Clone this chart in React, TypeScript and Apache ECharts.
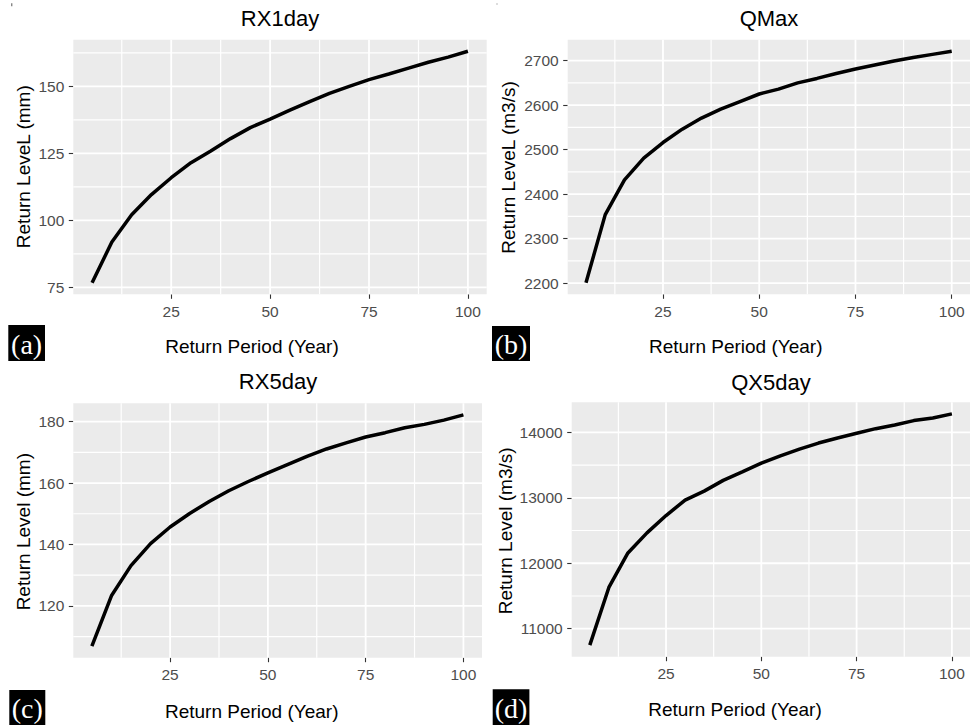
import React, { useEffect, useRef } from "react";
import * as echarts from "echarts";

// ---------- data ----------
const returnPeriods = [5, 10, 15, 20, 25, 30, 35, 40, 45, 50, 55, 60, 65, 70, 75, 80, 85, 90, 95, 100];

const rx1dayLevels = [76.7, 91.9, 102.1, 109.6, 115.9, 121.5, 125.9, 130.5, 134.6, 137.8, 141.1, 144.3, 147.4, 150.0, 152.5, 154.6, 156.8, 159.0, 160.9, 163.1];
const qmaxLevels = [2201, 2354, 2432, 2481, 2516, 2546, 2571, 2591, 2608, 2625, 2636, 2650, 2660, 2671, 2681, 2690, 2699, 2707, 2714, 2721];
const rx5dayLevels = [106.9, 123.3, 133.1, 140.3, 145.7, 150.1, 154.0, 157.5, 160.5, 163.3, 166.0, 168.7, 171.1, 173.1, 175.0, 176.4, 178.0, 179.1, 180.5, 182.2];
const qx5dayLevels = [10749, 11630, 12157, 12464, 12729, 12964, 13102, 13266, 13395, 13529, 13641, 13744, 13836, 13913, 13985, 14056, 14113, 14179, 14220, 14282];

const xMajorTicks = [25, 50, 75, 100];
const xMinorTicks = [12.5, 37.5, 62.5, 87.5];

const rx1dayMajorTicks = [75, 100, 125, 150];
const rx1dayMinorTicks = [87.5, 112.5, 137.5, 162.5];
const qmaxMajorTicks = [2200, 2300, 2400, 2500, 2600, 2700];
const qmaxMinorTicks = [2250, 2350, 2450, 2550, 2650];
const rx5dayMajorTicks = [120, 140, 160, 180];
const rx5dayMinorTicks = [110, 130, 150, 170];
const qx5dayMajorTicks = [11000, 12000, 13000, 14000];
const qx5dayMinorTicks = [11500, 12500, 13500];

const xAxisTitle = "Return Period (Year)";

// ---------- layout ----------
const FONT = '"Liberation Sans", Arial, Helvetica, sans-serif';
const SERIF = '"Liberation Serif", "Times New Roman", serif';

const panels = [
  {
    title: "RX1day", yName: "Return LeveL (mm)", tag: "(a)",
    values: rx1dayLevels, yMajor: rx1dayMajorTicks, yMinor: rx1dayMinorTicks,
    grid: { left: 73.3, top: 39.7, width: 413.4, height: 254.6 },
    titlePos: [280, 18.3], xNamePos: [252, 346.7], yNamePos: [23.8, 166.7],
    tagBox: [8.3, 325, 36.7, 36],
  },
  {
    title: "QMax", yName: "Return LeveL (m3/s)", tag: "(b)",
    values: qmaxLevels, yMajor: qmaxMajorTicks, yMinor: qmaxMinorTicks,
    grid: { left: 567.7, top: 39.7, width: 402.3, height: 254.6 },
    titlePos: [769, 18.3], xNamePos: [735.7, 346.7], yNamePos: [508.8, 167.5],
    tagBox: [492, 326, 38, 35],
  },
  {
    title: "RX5day", yName: "Return Level (mm)", tag: "(c)",
    values: rx5dayLevels, yMajor: rx5dayMajorTicks, yMinor: rx5dayMinorTicks,
    grid: { left: 73.3, top: 403.3, width: 408.7, height: 254.4 },
    titlePos: [278, 381.3], xNamePos: [251.7, 711.7], yNamePos: [23.8, 531.7],
    tagBox: [9.3, 690, 36, 35],
  },
  {
    title: "QX5day", yName: "Return Level (m3/s)", tag: "(d)",
    values: qx5dayLevels, yMajor: qx5dayMajorTicks, yMinor: qx5dayMinorTicks,
    grid: { left: 571.7, top: 402.3, width: 398.3, height: 254.4 },
    titlePos: [771, 382], xNamePos: [735, 709], yNamePos: [505.5, 530.8],
    tagBox: [492.7, 689.3, 36.7, 35.7],
  },
];

function expand(vals: number[]): [number, number] {
  const lo = Math.min(...vals);
  const hi = Math.max(...vals);
  const pad = (hi - lo) * 0.05;
  return [lo - pad, hi + pad];
}

function gridLineSeries(i: number, values: number[], dir: "x" | "y", anchor: number, width: number) {
  return {
    type: "custom",
    xAxisIndex: i,
    yAxisIndex: i,
    z: 1,
    silent: true,
    clip: false,
    data: values.map((v) => (dir === "x" ? [v, anchor] : [anchor, v])),
    renderItem: (params: any, api: any) => {
      const cs = params.coordSys;
      const pt = api.coord([api.value(0), api.value(1)]);
      const shape =
        dir === "x"
          ? { x1: pt[0], y1: cs.y, x2: pt[0], y2: cs.y + cs.height }
          : { x1: cs.x, y1: pt[1], x2: cs.x + cs.width, y2: pt[1] };
      return { type: "line", shape, style: { stroke: "#FFFFFF", lineWidth: width } };
    },
  };
}

function buildOption() {
  const [xMin, xMax] = expand(returnPeriods);
  const grids: any[] = [];
  const xAxes: any[] = [];
  const yAxes: any[] = [];
  const series: any[] = [];
  const graphics: any[] = [];

  panels.forEach((p, i) => {
    const [yMin, yMax] = expand(p.values);
    grids.push({
      ...p.grid,
      show: true,
      backgroundColor: "#EBEBEB",
      borderWidth: 0,
      containLabel: false,
      outerBoundsMode: "none",
    });

    const label = {
      color: "#4D4D4D",
      fontSize: 15.5,
      fontFamily: FONT,
      formatter: (v: number) => String(v),
    };

    xAxes.push({
      gridIndex: i, type: "value", min: xMin, max: xMax, position: "bottom",
      axisLine: { show: false },
      axisTick: { show: true, length: 4.5, customValues: xMajorTicks, lineStyle: { color: "#333333", width: 1.1 } },
      axisLabel: { ...label, show: true, customValues: xMajorTicks, margin: 9 },
      splitLine: { show: false },
      minorTick: { show: false }, minorSplitLine: { show: false },
    });
    yAxes.push({
      gridIndex: i, type: "value", min: yMin, max: yMax, position: "left",
      axisLine: { show: false },
      axisTick: { show: true, length: 4.5, customValues: p.yMajor, lineStyle: { color: "#333333", width: 1.1 } },
      axisLabel: { ...label, show: true, customValues: p.yMajor, margin: 9 },
      splitLine: { show: false },
      minorTick: { show: false }, minorSplitLine: { show: false },
    });

    series.push(gridLineSeries(i, xMinorTicks, "x", yMin, 1.2));
    series.push(gridLineSeries(i, p.yMinor, "y", xMin, 1.2));
    series.push(gridLineSeries(i, xMajorTicks, "x", yMin, 1.8));
    series.push(gridLineSeries(i, p.yMajor, "y", xMin, 1.8));

    series.push({
      type: "line",
      xAxisIndex: i,
      yAxisIndex: i,
      data: returnPeriods.map((rp, k) => [rp, p.values[k]]),
      showSymbol: false,
      symbol: "none",
      lineStyle: { color: "#000000", width: 3.5 },
      z: 3,
      silent: true,
    });

    graphics.push({
      type: "text", x: p.titlePos[0], y: p.titlePos[1],
      style: { text: p.title, fill: "#000000", fontSize: 22, fontFamily: FONT, align: "center", verticalAlign: "middle" },
    });
    graphics.push({
      type: "text", x: p.xNamePos[0], y: p.xNamePos[1],
      style: { text: xAxisTitle, fill: "#000000", fontSize: 19, fontFamily: FONT, align: "center", verticalAlign: "middle" },
    });
    graphics.push({
      type: "text", x: p.yNamePos[0], y: p.yNamePos[1], rotation: Math.PI / 2,
      style: { text: p.yName, fill: "#000000", fontSize: 19, fontFamily: FONT, align: "center", verticalAlign: "middle" },
    });
    const [bx, by, bw, bh] = p.tagBox;
    graphics.push({
      type: "rect", shape: { x: bx, y: by, width: bw, height: bh }, style: { fill: "#000000" },
    });
    graphics.push({
      type: "text", x: bx + bw / 2, y: by + bh / 2 + 1,
      style: { text: p.tag, fill: "#FFFFFF", fontSize: 28, fontFamily: SERIF, align: "center", verticalAlign: "middle" },
    });
  });

  graphics.push({ type: "rect", shape: { x: 11.3, y: 3.3, width: 1, height: 3 }, style: { fill: "#555555" } });
  graphics.push({ type: "rect", shape: { x: 496.5, y: 3.5, width: 1, height: 1 }, style: { fill: "#777777" } });

  return {
    animation: false,
    backgroundColor: "#FFFFFF",
    grid: grids,
    xAxis: xAxes,
    yAxis: yAxes,
    series,
    graphic: { elements: graphics },
  };
}

export default function App() {
  const ref = useRef<HTMLDivElement>(null);
  useEffect(() => {
    if (!ref.current) return;
    const chart = echarts.init(ref.current, null, { renderer: "svg" });
    chart.setOption(buildOption() as any);
    return () => chart.dispose();
  }, []);
  return (
    <div
      ref={ref}
      style={{ position: "fixed", left: 0, top: 0, width: 970, height: 725, background: "#FFFFFF" }}
    />
  );
}
